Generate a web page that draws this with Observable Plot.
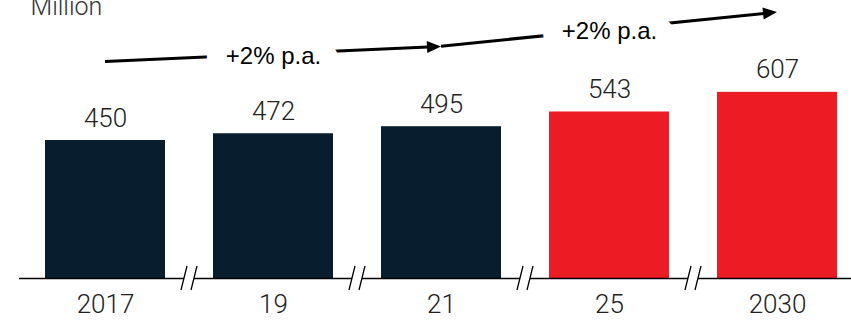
<!DOCTYPE html>
<html><head><meta charset="utf-8">
<script src="https://cdn.jsdelivr.net/npm/d3@7"></script>
<script src="https://cdn.jsdelivr.net/npm/@observablehq/plot@0.6"></script>
<style>body{margin:0;background:#fff}</style>
</head><body><div id="chart"></div>
<script>
const categories = ["2017", "19", "21", "25", "2030"];
const values = [450, 472, 495, 543, 607];
const groups = ["actual", "actual", "actual", "forecast", "forecast"];
const breakAfter = ["2017", "19", "21", "25"];
const growthText = ["+2% p.a.", "+2% p.a."];
const growthFrom = ["2017", "21"];
const growthTo = ["21", "2030"];
const growthMid = ["19", "25"];
const growthStartValue = [706, 756];
const growthEndValue = [755, 867];
const unitLabel = "Million";

const data = categories.map((c, i) => ({cat: c, value: values[i], group: groups[i]}));
const growth = growthText.map((t, i) => ({
  text: t, from: growthFrom[i], to: growthTo[i], mid: growthMid[i],
  y1: growthStartValue[i], y2: growthEndValue[i]
}));

function center(x, v) {
  const bw = typeof x.bandwidth === "function" ? x.bandwidth() : 0;
  return x(v) + bw / 2;
}

function arrowsMark(index, scales) {
  const x = scales.x, y = scales.y;
  const g = d3.create("svg:g");
  for (const a of growth) {
    const x1 = center(x, a.from), y1 = y(a.y1), x2 = center(x, a.to), y2 = y(a.y2);
    const ang = Math.atan2(y2 - y1, x2 - x1);
    const L = 14, W = 6;
    const bx = x2 - L * Math.cos(ang), by = y2 - L * Math.sin(ang);
    g.append("line").attr("x1", x1).attr("y1", y1).attr("x2", bx + Math.cos(ang)).attr("y2", by + Math.sin(ang))
      .attr("stroke", "#000").attr("stroke-width", 3);
    const px = -Math.sin(ang) * W, py = Math.cos(ang) * W;
    g.append("path").attr("d", `M${x2},${y2}L${bx + px},${by + py}L${bx - px},${by - py}Z`).attr("fill", "#000");
  }
  return g.node();
}

function breaksMark(index, scales) {
  const x = scales.x, y = scales.y;
  const g = d3.create("svg:g");
  const bw = x.bandwidth(), step = x.step();
  const y0 = y(0);
  for (const c of breakAfter) {
    const cx = x(c) + bw + (step - bw) / 2;
    g.append("rect").attr("x", cx - 5).attr("y", y0 - 3).attr("width", 10).attr("height", 6).attr("fill", "#fff");
    for (const s of [-5, 5]) {
      g.append("line")
        .attr("x1", cx + s - 3).attr("y1", y0 + 12)
        .attr("x2", cx + s + 3).attr("y2", y0 - 12)
        .attr("stroke", "#000").attr("stroke-width", 1.3);
    }
  }
  return g.node();
}

const chart = Plot.plot({
  width: 851, height: 321,
  marginLeft: 19, marginRight: 0, marginTop: 2, marginBottom: 43,
  style: {fontFamily: "Roboto, 'Liberation Sans', Arial, sans-serif", fontSize: "26px", fontWeight: 300, color: "#222", background: "#fff"},
  x: {type: "band", domain: categories, paddingInner: 0.283, paddingOuter: 0.107, align: 0.667, tickSize: 0, tickPadding: 16, label: null},
  y: {domain: [0, 900], axis: null},
  color: {domain: ["actual", "forecast"], range: ["#081e2e", "#ec1c24"]},
  marks: [
    Plot.barY(data, {x: "cat", y: "value", fill: "group"}),
    Plot.ruleY([0], {stroke: "#000", strokeWidth: 1.3}),
    breaksMark,
    Plot.text(data, {x: "cat", y: "value", text: d => String(d.value), dy: -14, lineAnchor: "bottom", fontSize: 26, fontWeight: 300, fill: "#222"}),
    arrowsMark,
    Plot.text(growth, {x: "mid", y: d => (d.y1 + d.y2) / 2, text: "text", fontSize: 24, fontWeight: 400, fontFamily: "'Liberation Sans', Arial, sans-serif", fill: "#000", stroke: "#fff", strokeWidth: 40, dy: 2}),
    Plot.text([unitLabel], {frameAnchor: "top-left", text: d => d, textAnchor: "start", dx: 11, dy: -5, fontSize: 25, fontWeight: 300, fill: "#333"})
  ]
});
document.getElementById("chart").appendChild(chart);
</script>
</body></html>
